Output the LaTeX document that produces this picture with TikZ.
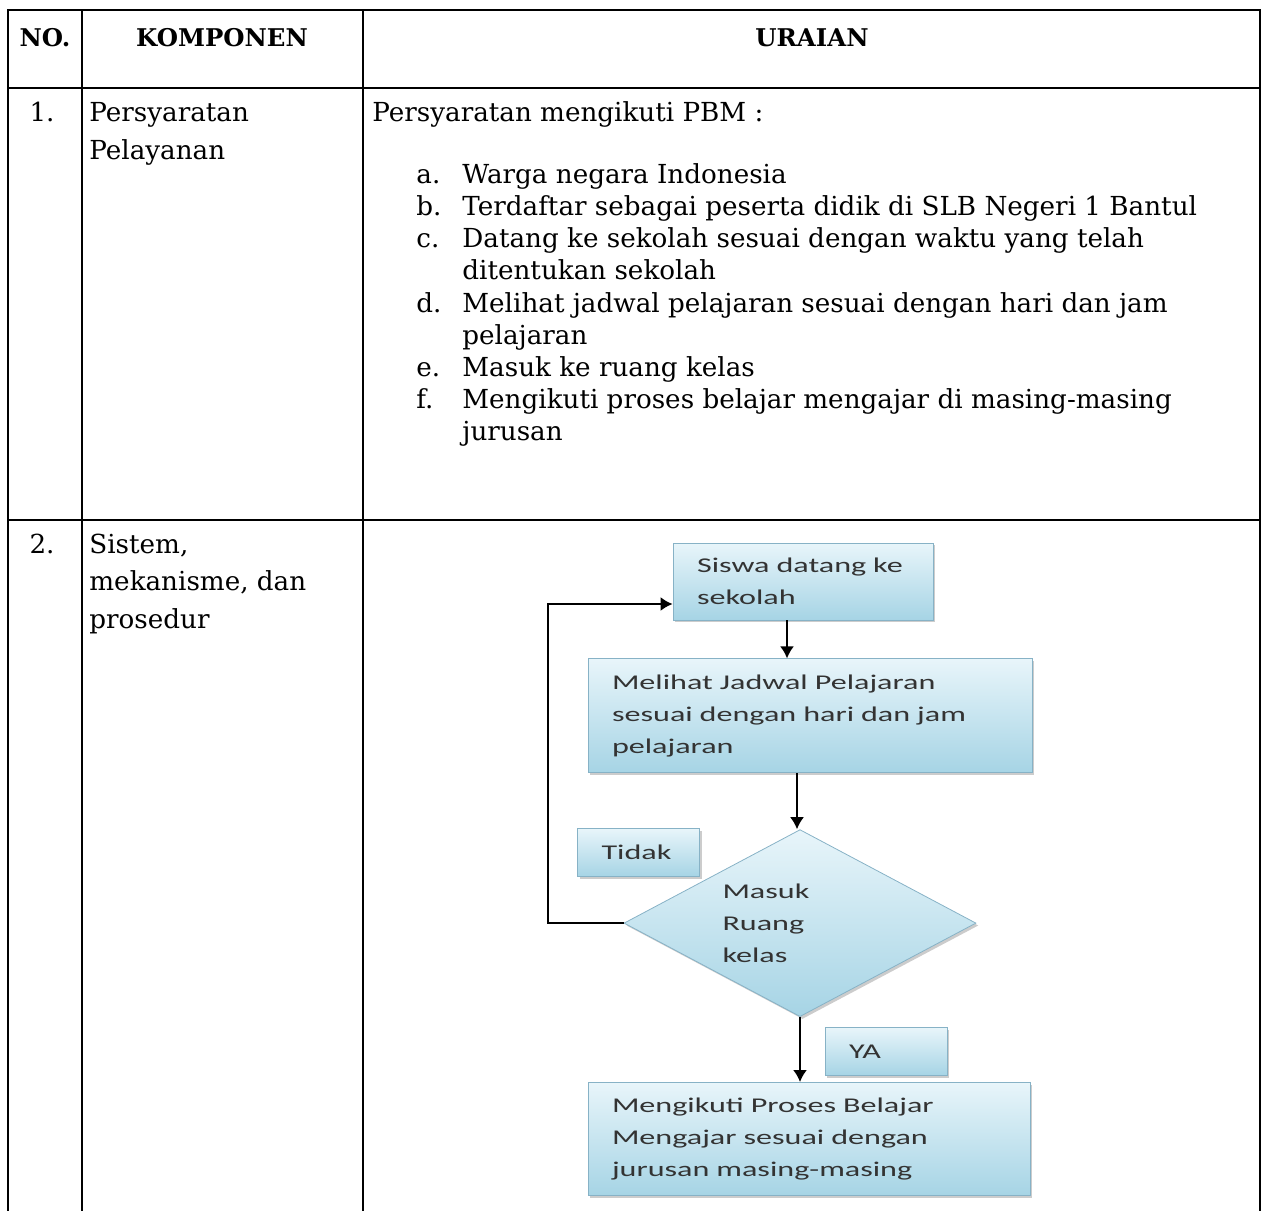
\documentclass[tikz,border=0pt]{standalone}
\usepackage{fontspec}
\setmainfont{DejaVu Serif}
\newfontfamily\flowfont[FakeStretch=1.53]{Carlito}
\usetikzlibrary{arrows.meta, positioning, shapes.geometric, shadows}
\definecolor{boxtop}{RGB}{232,245,250}
\definecolor{boxbottom}{RGB}{166,212,229}
\definecolor{boxline}{RGB}{135,178,198}
\tikzstyle{cell} = [anchor=base west, inner sep=0pt, align=left, font=\fontsize{13.1}{16}\selectfont]
\tikzstyle{widecell} = [cell, font=\fontsize{13.1}{18.75}\selectfont]
\tikzstyle{head} = [cell, anchor=base, font=\fontsize{12.2}{16}\selectfont\bfseries]
\tikzstyle{rule} = [line width=1.4pt]
\tikzstyle{thinrule} = [line width=0.8pt]
\tikzstyle{block} = [rectangle, draw=boxline, line width=0.4pt, top color=boxtop, bottom color=boxbottom, drop shadow={shadow xshift=1.2pt, shadow yshift=-1.2pt, opacity=0.4}, text=black!80, font=\flowfont\fontsize{10.5}{16}\selectfont, align=left, inner xsep=12pt, inner ysep=0pt]
\tikzstyle{box} = [block]
\tikzstyle{note} = [block, minimum height=24pt, text width=37pt]
\tikzstyle{decision} = [block, diamond, aspect=1.88, minimum width=176pt, minimum height=93.5pt, text width=77.5pt, inner sep=0pt]
\tikzset{flow/.style={-{Latex[length=6pt, width=7pt]}, line width=1pt}}

\begin{document}
\begin{tikzpicture}[x=0.5pt, y=-0.5pt]
    \useasboundingbox (0,0) rectangle (1262,1211);

    % Table rules.
    \draw [rule] (7,10) -- (1261,10);
    \draw [rule] (7,88) -- (1261,88);
    \draw [rule] (7,520) -- (1261,520);
    \draw [thinrule] (8,10) -- (8,1211);
    \draw [rule] (82,10) -- (82,1211);
    \draw [thinrule] (363,10) -- (363,1211);
    \draw [thinrule] (1260,10) -- (1260,1211);

    % Header.
    \node (no head) [head] at (45,46) {NO.};
    \node (komponen head) [head] at (222,46) {KOMPONEN};
    \node (uraian head) [head] at (812,46) {URAIAN};

    % Row 1 (multi-line cells sit on the baseline of their last line).
    \node (no 1) [cell, anchor=base] at (42,121) {1.};
    \node (komponen 1) [widecell] at (89,159) {Persyaratan\\Pelayanan};
    \node (uraian 1) [cell] at (372,121) {Persyaratan mengikuti PBM :};
    \foreach \l/\y/\b/\t in {a/183/183/{Warga negara Indonesia},
        b/215/215/{Terdaftar sebagai peserta didik di SLB Negeri 1 Bantul},
        c/247/279/{Datang ke sekolah sesuai dengan waktu yang telah\\ditentukan sekolah},
        d/312/344/{Melihat jadwal pelajaran sesuai dengan hari dan jam\\pelajaran},
        e/376/376/{Masuk ke ruang kelas},
        f/408/440/{Mengikuti proses belajar mengajar di masing-masing\\jurusan}} {%
        \node (item \l) [cell] at (416,\y) {\l.};
        \node (item \l text) [cell] at (462,\b) {\t};
    }

    % Row 2.
    \node (no 2) [cell, anchor=base] at (42,553) {2.};
    \node (komponen 2) [widecell] at (89,628) {Sistem,\\mekanisme, dan\\prosedur};

    % Flowchart.
    \node (datang) [box, minimum height=38.5pt, text width=106pt] at (803,581.5) {Siswa datang ke\\sekolah};
    \node (lihat) [box, minimum height=57pt, text width=198pt, below=19pt of datang, xshift=3.5pt] {Melihat Jadwal Pelajaran\\sesuai dengan hari dan jam\\pelajaran};
    \node (masuk) [decision, below=28pt of lihat, xshift=-5pt] {Masuk\\Ruang\\kelas};
    \node (ikut) [box, minimum height=56.5pt, text width=197pt, below=32.5pt of masuk, xshift=4.5pt] {Mengikuti Proses Belajar\\Mengajar sesuai dengan\\jurusan masing-masing};
    \node (tidak) [note] at (638.5,852.5) {Tidak};
    \node (ya) [note] at (886,1051.5) {YA};
    \coordinate (loop) at (548,604);

    % Arrows.
    \draw [flow] ([xshift=-8pt]datang.south) -- ([xshift=-8pt]datang.south |- lihat.north);
    \draw [flow] ([xshift=-6.5pt]lihat.south) -- ([xshift=-6.5pt]lihat.south |- masuk.north);
    \draw [flow] (masuk.south) -- (masuk.south |- ikut.north);
    \draw [flow] (masuk.west) -| (loop) -- (loop -| datang.west);
\end{tikzpicture}
\end{document}
